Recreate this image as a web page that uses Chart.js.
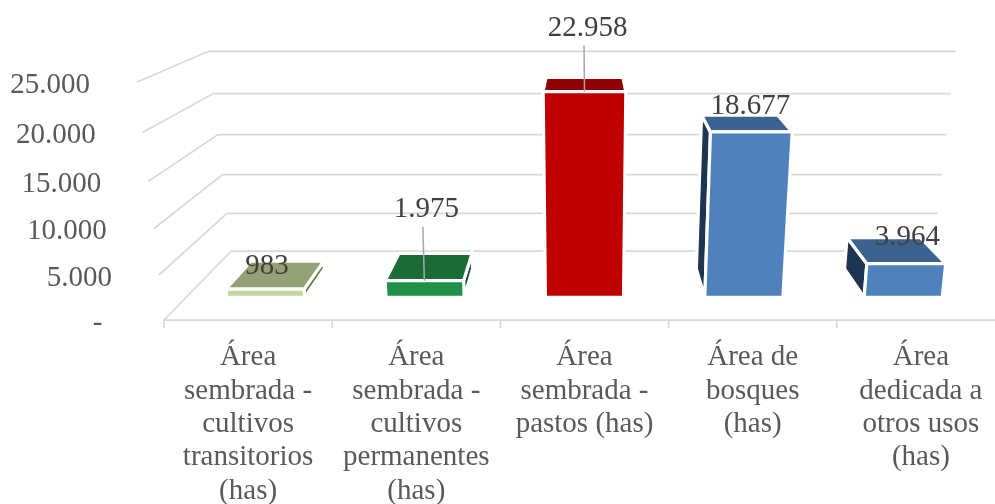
<!DOCTYPE html>
<html lang="es">
<head>
<meta charset="utf-8">
<title>Uso del suelo</title>
<style>
html,body{margin:0;padding:0;background:#fff;overflow:hidden}
canvas{display:block}
</style>
<script src="https://cdn.jsdelivr.net/npm/chart.js@4/dist/chart.umd.js"></script>
</head>
<body>
<canvas id="c" width="995" height="504"></canvas>
<script>
const categories = [
  ['Área', 'sembrada -', 'cultivos', 'transitorios', '(has)'],
  ['Área', 'sembrada -', 'cultivos', 'permanentes', '(has)'],
  ['Área', 'sembrada -', 'pastos (has)'],
  ['Área de', 'bosques', '(has)'],
  ['Área', 'dedicada a', 'otros usos', '(has)']
];
const areas = [983, 1975, 22958, 18677, 3964];
const yTicks = [0, 5000, 10000, 15000, 20000, 25000];

const frontColors = ['#c4d79b', '#228f47', '#c00000', '#4f81bd', '#4f81bd'];
const topColors   = ['#93a174', '#1a6b35', '#900000', '#3c6290', '#3c6290'];
const sideColors  = ['#6f7d52', '#0f4f26', '#600000', '#1e3551', '#1e3551'];
// label offset from the top centre of each bar; the far ones get a leader line
const labelDx = [2, 2, 3, -1, 1];
const labelDy = [-23, -71, -63, -26, -26];

const FONT = '"Liberation Serif","Times New Roman",serif';
const GRID = '#d9d9d9';

// one-camera perspective: depth lines meet at VP, verticals converge slowly downward
const VP = {x: 584, y: -110};
const VERT_H = 3719;
const S_WALL = 0.84;     // back wall depth
const S_BAR_FRONT = 0.9475;
const S_BAR_BACK = 0.9475 * 0.93;
const PLANE_WIDTH = 841;

let baseY = 320;
function project(X, py, s) {
  const xv = VP.x + (X - VP.x) * (1 + (baseY - py) / VERT_H);
  return {x: VP.x + (xv - VP.x) * s, y: VP.y + (py - VP.y) * s};
}

class FrontCategoryScale extends Chart.CategoryScale {
  static id = 'frontCategory';
  configure() {
    super.configure();
    this._length = this.options.planeWidth;
    this._endPixel = this._startPixel + this._length;
  }
}
class PerspectiveLinearScale extends Chart.LinearScale {
  static id = 'perspectiveLinear';
  getPixelForValue(v) {
    const f = (v - this.min) / (this.max - this.min);
    const c = this.options.perspective;
    return this.bottom - (this.bottom - this.top) * f * (1 - c) / (1 - c * f);
  }
  _computeLabelItems(area) {
    const items = super._computeLabelItems(area);
    baseY = this.bottom;
    items.forEach(it => {
      const y = it.options.translation[1];
      it.options.translation[0] = project(this.right, y, 1).x - this.options.labelGap;
      it.options.translation[1] = y + this.options.labelDrop;
    });
    return items;
  }
}
Chart.register(FrontCategoryScale, PerspectiveLinearScale);

const fmt = v => String(v).replace(/\B(?=(\d{3})+$)/g, '.');

function poly(ctx, pts, fill) {
  ctx.beginPath();
  pts.forEach((p, i) => i ? ctx.lineTo(p.x, p.y) : ctx.moveTo(p.x, p.y));
  ctx.closePath();
  ctx.fillStyle = fill;
  ctx.fill();
  ctx.stroke();
}

const scene3d = {
  id: 'scene3d',
  beforeDatasetsDraw(chart) {
    const {ctx, scales: {x, y}} = chart;
    baseY = y.bottom;
    const xL = x.left, xR = x.getPixelForDecimal(1) - 5;
    ctx.save();
    ctx.strokeStyle = GRID;
    ctx.lineWidth = 1.75;
    y.ticks.forEach((t, i) => {
      const py = y.getPixelForTick(i);
      const a = project(xL, py, 1), b = project(xL, py, S_WALL), c = project(xR, py, S_WALL);
      ctx.beginPath();
      ctx.moveTo(a.x, a.y); ctx.lineTo(b.x, b.y); ctx.lineTo(c.x, c.y);
      ctx.stroke();
    });
    // floor front edge and category ticks
    ctx.beginPath();
    ctx.moveTo(xL, y.bottom); ctx.lineTo(x.getPixelForDecimal(1), y.bottom);
    for (let i = 0; i <= categories.length; i++) {
      const tx = x.getPixelForDecimal(i / categories.length);
      ctx.moveTo(tx, y.bottom); ctx.lineTo(tx, y.bottom + 8);
    }
    ctx.stroke();
    ctx.restore();
  },
  beforeDatasetDraw(chart, args) {
    const {ctx} = chart;
    ctx.save();
    ctx.strokeStyle = '#ffffff';
    ctx.lineWidth = 3.2;
    ctx.lineJoin = 'miter';
    args.meta.data.forEach((bar, i) => {
      const l = bar.x - bar.width / 2, r = bar.x + bar.width / 2;
      const fTL = project(l, bar.y, S_BAR_FRONT), fTR = project(r, bar.y, S_BAR_FRONT);
      const fBL = project(l, bar.base, S_BAR_FRONT), fBR = project(r, bar.base, S_BAR_FRONT);
      const bTL = project(l, bar.y, S_BAR_BACK), bTR = project(r, bar.y, S_BAR_BACK);
      const bBL = project(l, bar.base, S_BAR_BACK), bBR = project(r, bar.base, S_BAR_BACK);
      if (fTL.x > VP.x) poly(ctx, [fTL, bTL, bBL, fBL], sideColors[i]);
      if (fTR.x < VP.x) poly(ctx, [fTR, bTR, bBR, fBR], sideColors[i]);
      poly(ctx, [fTL, bTL, bTR, fTR], topColors[i]);
      poly(ctx, [fTL, fTR, fBR, fBL], frontColors[i]);
    });
    ctx.restore();
    return false;
  },
  afterDatasetsDraw(chart) {
    const {ctx} = chart;
    const meta = chart.getDatasetMeta(0);
    ctx.save();
    meta.data.forEach((bar, i) => {
      const top = project(bar.x, bar.y, S_BAR_FRONT);
      const lx = top.x + labelDx[i], ly = top.y + labelDy[i];
      if (labelDy[i] < -50) {
        ctx.strokeStyle = '#a6a6a6';
        ctx.lineWidth = 1.5;
        ctx.beginPath();
        ctx.moveTo(lx - 3.5, ly + 17);
        ctx.lineTo(top.x, top.y);
        ctx.stroke();
      }
      ctx.fillStyle = '#404040';
      ctx.font = '29px ' + FONT;
      ctx.textAlign = 'center';
      ctx.textBaseline = 'middle';
      ctx.fillText(fmt(areas[i]), lx, ly);
    });
    ctx.restore();
  }
};

new Chart(document.getElementById('c'), {
  type: 'bar',
  data: {
    labels: categories,
    datasets: [{
      label: 'Área (has)',
      data: areas,
      backgroundColor: frontColors,
      categoryPercentage: 1,
      barPercentage: 0.49
    }]
  },
  options: {
    responsive: false,
    animation: false,
    events: [],
    layout: {padding: {top: 82, left: 0, right: 0, bottom: 0}},
    plugins: {legend: {display: false}, tooltip: {enabled: false}, title: {display: false}},
    scales: {
      x: {
        type: 'frontCategory',
        planeWidth: PLANE_WIDTH,
        offset: true,
        grid: {display: false, drawTicks: false},
        border: {display: false},
        ticks: {
          autoSkip: false, maxRotation: 0, minRotation: 0, padding: 21,
          color: '#595959',
          font: {family: FONT, size: 29, lineHeight: 1.15}
        },
        afterFit(s) { s.height = 184; }
      },
      y: {
        type: 'perspectiveLinear',
        perspective: 0.0673,
        labelGap: 47,
        labelDrop: 3,
        min: 0,
        max: 25000,
        afterBuildTicks(s) { s.ticks = yTicks.map(value => ({value})); },
        grid: {display: false, drawTicks: false},
        border: {display: false},
        ticks: {
          color: '#595959',
          font: {family: FONT, size: 29},
          callback: v => v === 0 ? '-  ' : fmt(v)
        },
        afterFit(s) { s.width = 164; }
      }
    }
  },
  plugins: [scene3d]
});
</script>
</body>
</html>
